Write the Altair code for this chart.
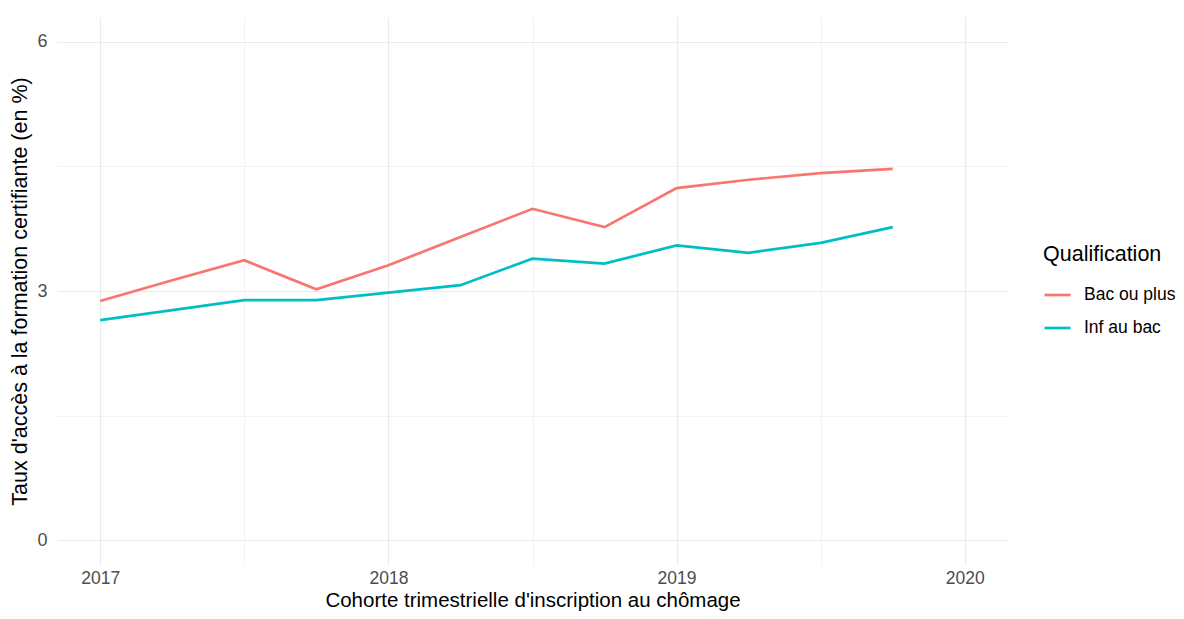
import altair as alt
import pandas as pd

quarters = [2017.0, 2017.25, 2017.5, 2017.75, 2018.0, 2018.25, 2018.5, 2018.75,
            2019.0, 2019.25, 2019.5, 2019.75]
bac_ou_plus = [2.88, 3.13, 3.37, 3.02, 3.31, 3.65, 3.99, 3.77, 4.24, 4.34, 4.42, 4.47]
inf_au_bac = [2.65, 2.77, 2.89, 2.89, 2.98, 3.07, 3.39, 3.33, 3.55, 3.46, 3.58, 3.77]
series = ["Bac ou plus", "Inf au bac"]
colors = ["#F8766D", "#00BFC4"]
x_breaks = [2017, 2017.5, 2018, 2018.5, 2019, 2019.5, 2020]
y_breaks = [0, 1.5, 3, 4.5, 6]

rows = []
for q, v in zip(quarters, bac_ou_plus):
    rows.append({"t": q, "v": v, "Qualification": series[0]})
for q, v in zip(quarters, inf_au_bac):
    rows.append({"t": q, "v": v, "Qualification": series[1]})
df = pd.DataFrame(rows)

font = "Liberation Sans"

chart = alt.Chart(df).mark_line(strokeWidth=2.7).encode(
    x=alt.X("t:Q",
            scale=alt.Scale(domain=[2016.85, 2020.15], nice=False, zero=False),
            axis=alt.Axis(values=x_breaks,
                          labelExpr="datum.value % 1 == 0 ? format(datum.value, 'd') : ''",
                          gridWidth={"condition": {"test": "datum.value % 1 != 0", "value": 0.6}, "value": 1.2},
                          title="Cohorte trimestrielle d'inscription au chômage",
                          titleFontSize=20.5, labelFontSize=17.5,
                          labelPadding=4, titlePadding=4)),
    y=alt.Y("v:Q",
            scale=alt.Scale(domain=[-0.3, 6.3], nice=False, zero=False),
            axis=alt.Axis(values=y_breaks,
                          labelExpr="datum.value % 3 == 0 ? format(datum.value, 'd') : ''",
                          gridWidth={"condition": {"test": "datum.value % 3 != 0", "value": 0.6}, "value": 1.2},
                          title="Taux d'accès à la formation certifiante (en %)",
                          titleFontSize=21.5, labelFontSize=18,
                          labelPadding=10, titlePadding=5)),
    color=alt.Color("Qualification:N",
                    scale=alt.Scale(domain=series, range=colors),
                    legend=alt.Legend(orient="none", legendX=986, legendY=227,
                                      symbolType="stroke", symbolSize=676,
                                      symbolStrokeWidth=2.7, titleFontSize=21.5,
                                      titleFontWeight="normal", titleColor="#000000",
                                      labelFontSize=17.5, labelColor="#000000",
                                      titlePadding=15, rowPadding=10, labelOffset=12,
                                      titleFont=font, labelFont=font)),
).properties(
    width=951, height=548,
    background="white",
    autosize=alt.AutoSizeParams(type="none"),
    padding={"left": 49, "top": 9, "right": 168, "bottom": 46},
).configure_view(
    stroke=None
).configure_axis(
    domain=False, ticks=False, gridColor="#ebebeb",
    labelFont=font, titleFont=font, labelColor="#4d4d4d",
    titleFontWeight="normal", titleColor="#000000",
)

chart.save("out.html", embed_options={"renderer": "svg", "actions": False})
